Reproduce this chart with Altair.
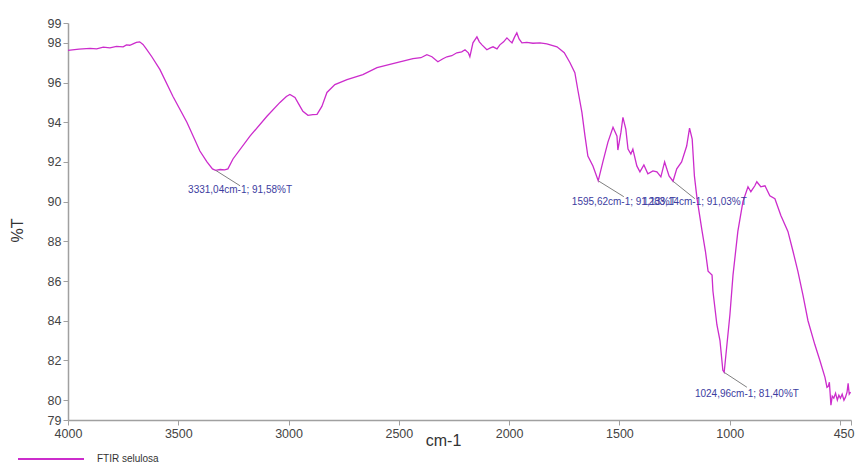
import altair as alt
import pandas as pd

# Spectrum (wavenumber cm-1, %T)
wavenumber = [4000, 3950, 3900, 3870, 3840, 3810, 3780, 3750, 3735, 3720, 3705, 3690, 3675, 3660,
              3645, 3620, 3583, 3524, 3461, 3402, 3370, 3345, 3331, 3310, 3290, 3275, 3252, 3175,
              3098, 3039, 3010, 2994, 2971, 2948, 2935, 2912, 2890, 2871, 2849, 2826, 2790, 2735,
              2663, 2599, 2509, 2436, 2400, 2373, 2350, 2323, 2300, 2282, 2260, 2237, 2215, 2200,
              2185, 2178, 2164, 2146, 2135, 2123, 2101, 2085, 2073, 2055, 2042, 2025, 2010, 1997,
              1987, 1975, 1965, 1955, 1942, 1920, 1892, 1860, 1829, 1783, 1750, 1724, 1702, 1688,
              1670, 1656, 1643, 1620, 1596, 1575, 1552, 1529, 1511, 1507, 1493, 1484, 1471, 1461,
              1448, 1439, 1421, 1407, 1389, 1371, 1348, 1330, 1312, 1295, 1275, 1257, 1240, 1218,
              1195, 1182, 1170, 1160, 1148, 1125, 1110, 1098, 1080, 1076, 1058, 1044, 1031, 1025,
              1017, 999, 985, 963, 940, 917, 904, 886, 877, 859, 840, 818, 795, 768, 736, 713, 691,
              668, 645, 614, 591, 568, 559, 553, 548, 541, 535, 528, 520, 512, 505, 498, 490, 482,
              475, 468, 463, 458, 452]
transmittance = [97.62, 97.68, 97.72, 97.70, 97.78, 97.75, 97.82, 97.80, 97.90, 97.88, 97.95, 98.02,
                 98.05, 97.92, 97.70, 97.30, 96.65, 95.30, 94.00, 92.55, 92.00, 91.65, 91.58, 91.62,
                 91.60, 91.65, 92.15, 93.30, 94.30, 95.00, 95.30, 95.40, 95.25, 94.80, 94.55, 94.35,
                 94.38, 94.40, 94.80, 95.50, 95.90, 96.15, 96.40, 96.75, 97.00, 97.20, 97.25, 97.40,
                 97.30, 97.05, 97.20, 97.30, 97.35, 97.50, 97.55, 97.65, 97.50, 97.30, 98.00, 98.30,
                 98.05, 97.90, 97.65, 97.75, 97.80, 97.70, 97.90, 98.05, 98.25, 98.10, 98.00, 98.30,
                 98.50, 98.20, 98.00, 98.02, 97.98, 98.00, 97.95, 97.80, 97.50, 97.00, 96.50, 95.60,
                 94.50, 93.30, 92.30, 91.80, 91.05, 92.00, 93.00, 93.75, 93.30, 92.60, 93.50, 94.25,
                 93.65, 92.65, 92.40, 92.65, 91.80, 91.50, 91.85, 91.40, 91.55, 91.50, 91.25, 92.00,
                 91.30, 91.03, 91.65, 92.00, 92.80, 93.70, 93.15, 91.30, 90.15, 88.50, 87.50, 86.50,
                 86.30, 85.50, 83.80, 83.00, 81.50, 81.40, 82.30, 84.30, 86.30, 88.50, 90.00, 90.75,
                 90.50, 90.80, 91.00, 90.75, 90.80, 90.30, 90.15, 89.30, 88.50, 87.50, 86.50, 85.30,
                 84.00, 82.80, 82.00, 81.15, 80.65, 80.70, 80.90, 79.75, 80.20, 80.10, 80.35, 80.00,
                 80.25, 80.10, 80.30, 80.00, 80.15, 80.40, 80.85, 80.30, 80.40]

series_name = "FTIR selulosa"

# Peak annotations
label_text = ["3331,04cm-1; 91,58%T", "1595,62cm-1; 91,13%T",
              "1283,14cm-1; 91,03%T", "1024,96cm-1; 81,40%T"]
label_x = [3220, 1480, 1158, 922]
label_y = [90.60, 90.00, 90.00, 80.30]
leader_x1 = [3331, 1596, 1257, 1025]
leader_y1 = [91.58, 91.05, 91.03, 81.40]
leader_x2 = [3220, 1480, 1158, 922]
leader_y2 = [90.80, 90.25, 90.15, 80.65]

x_ticks = [4000, 3500, 3000, 2500, 2000, 1500, 1000, 500, 450]
y_ticks = [79, 80, 82, 84, 86, 88, 90, 92, 94, 96, 98, 99]

spec = pd.DataFrame({"wn": wavenumber, "t": transmittance, "series": series_name})
ann = pd.DataFrame({"text": label_text, "x": label_x, "y": label_y,
                    "x1": leader_x1, "y1": leader_y1, "x2": leader_x2, "y2": leader_y2})

FONT = "Liberation Sans"
xscale = alt.Scale(domain=[450, 4000], reverse=True, nice=False, zero=False)
yscale = alt.Scale(domain=[79, 99], nice=False, zero=False)

x_axis = alt.Axis(values=x_ticks, title="cm-1", labelExpr="datum.value == 500 ? '' : datum.label",
                  labelOverlap=False, labelFlush=False, grid=False, format="d",
                  labelAlign={"condition": {"test": "datum.value == 450", "value": "right"},
                              "value": "center"},
                  labelOffset={"condition": {"test": "datum.value == 450", "value": 3},
                               "value": 0},
                  titleX=375, titleY=20, titleBaseline="middle", titleFontSize=16,
                  titleFontWeight="normal", titleColor="#333")
y_axis = alt.Axis(values=y_ticks, title="%T", grid=False, labelOverlap=False, labelFlush=False,
                  titleX=-51, titleY=207, titleAngle=-90, titleAlign="center",
                  titleBaseline="middle", titleFontSize=16, titleFontWeight="normal",
                  titleColor="#333", format="d")

line = alt.Chart(spec).mark_line(strokeWidth=1.3, interpolate="linear").encode(
    x=alt.X("wn:Q", scale=xscale, axis=x_axis),
    y=alt.Y("t:Q", scale=yscale, axis=y_axis),
    color=alt.Color("series:N", scale=alt.Scale(range=["#cc2ccc"]),
                    legend=alt.Legend(title=None, orient="none", legendX=-51, legendY=402,
                                      symbolType="stroke", symbolSize=4356,
                                      symbolStrokeWidth=2, labelFontSize=10,
                                      labelColor="#333", labelFont=FONT, labelOffset=12)),
)

leaders = alt.Chart(ann).mark_rule(color="#808080", strokeWidth=1).encode(
    x=alt.X("x1:Q", scale=xscale, axis=x_axis), y=alt.Y("y1:Q", scale=yscale, axis=y_axis),
    x2="x2:Q", y2="y2:Q",
)

labels = alt.Chart(ann).mark_text(font=FONT, fontSize=10, color="#3c3ca0",
                                  align="center", baseline="middle").encode(
    x=alt.X("x:Q", scale=xscale, axis=x_axis), y=alt.Y("y:Q", scale=yscale, axis=y_axis),
    text="text:N",
)

chart = alt.layer(line, leaders, labels).properties(
    width=783, height=397,
    autosize=alt.AutoSizeParams(type="none"),
    padding={"left": 60, "top": 15, "right": 4, "bottom": 50},
    background="white",
).configure_view(stroke=None).configure_axis(
    domainColor="#a0a0a0", domainWidth=1.5, tickColor="#a0a0a0", tickSize=5,
    labelFont=FONT, titleFont=FONT, labelFontSize=12.5, labelColor="#444", labelPadding=2,
    labelOverlap=False,
)

chart.save("out.html", embed_options={"renderer": "svg", "actions": False})
